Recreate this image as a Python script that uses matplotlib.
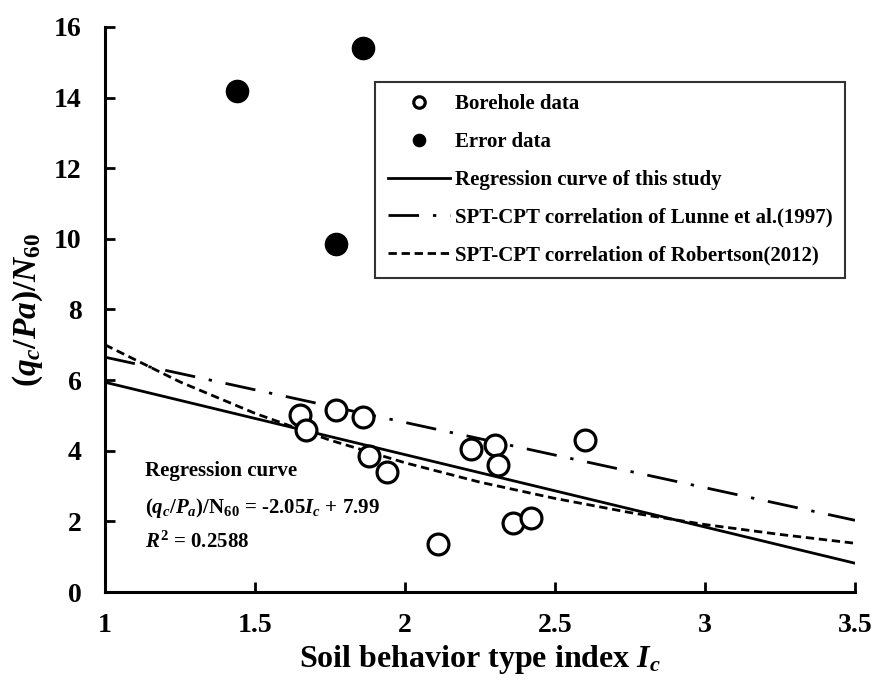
import matplotlib
matplotlib.use("Agg")
import matplotlib.pyplot as plt

# Data
bore_ic = [1.65, 1.67, 1.77, 1.86, 1.88, 1.94, 2.11, 2.22, 2.30, 2.31, 2.36, 2.42, 2.60]
bore_q = [5.00, 4.60, 5.15, 4.95, 3.85, 3.40, 1.35, 4.05, 4.15, 3.60, 1.95, 2.10, 4.30]
err_ic = [1.44, 1.77, 1.86]
err_q = [14.2, 9.85, 15.4]
reg_ic = [1.0, 3.5]
reg_q = [5.94, 0.815]
lunne_ic = [1.0, 3.5]
lunne_q = [6.65, 2.03]
rob_ic = [1.0, 1.25, 1.5, 1.75, 2.0, 2.25, 2.5, 2.75, 3.0, 3.25, 3.5]
rob_q = [7.00, 5.95, 5.06, 4.30, 3.66, 3.11, 2.65, 2.25, 1.91, 1.63, 1.38]
xticks = [1, 1.5, 2, 2.5, 3, 3.5]
xtick_labels = ["1", "1.5", "2", "2.5", "3", "3.5"]
yticks = [0, 2, 4, 6, 8, 10, 12, 14, 16]

plt.rcParams['font.family'] = ['Liberation Serif', 'DejaVu Serif']
plt.rcParams['font.weight'] = 'bold'
plt.rcParams['mathtext.fontset'] = 'custom'
plt.rcParams['mathtext.rm'] = 'Liberation Serif:bold'
plt.rcParams['mathtext.it'] = 'Liberation Serif:bold:italic'
plt.rcParams['mathtext.bf'] = 'Liberation Serif:bold'

W, H = 882, 684
fig = plt.figure(figsize=(W / 100, H / 100), dpi=100)
left, right, top, bottom = 105, 855, 27, 592
ax = fig.add_axes([left / W, 1 - bottom / H, (right - left) / W, (bottom - top) / H])

ax.plot(bore_ic, bore_q, 'o', ms=15, mfc='white', mec='black', mew=2.3, ls='none',
        label='Borehole data', zorder=5)
ax.plot(err_ic, err_q, 'o', ms=16, mfc='black', mec='black', ls='none',
        label='Error data', zorder=5)
ax.plot(reg_ic, reg_q, '-', color='black', lw=2, label='Regression curve of this study')
ax.plot(lunne_ic, lunne_q, color='black', lw=2, dashes=(11, 5, 1.2, 5),
        label='SPT-CPT correlation of Lunne et al.(1997)')
ax.plot(rob_ic, rob_q, color='black', lw=2, dashes=(3, 1.7),
        label='SPT-CPT correlation of Robertson(2012)')

ax.set_xlim(1, 3.5)
ax.set_ylim(0, 16)
ax.set_xticks(xticks)
ax.set_xticklabels(xtick_labels)
ax.set_yticks(yticks)
ax.tick_params(direction='in', length=7, width=2, labelsize=20)
ax.tick_params(axis='x', pad=15)
ax.tick_params(axis='y', pad=17)
for lab in ax.get_xticklabels() + ax.get_yticklabels():
    lab.set_fontweight('bold')
for s in ['top', 'right']:
    ax.spines[s].set_visible(False)
for s in ['left', 'bottom']:
    ax.spines[s].set_linewidth(2.2)

ax.set_xlabel(r'Soil behavior type index $I_c$', fontsize=23, fontweight='bold', labelpad=4)
ax.set_ylabel(r'$(q_c/Pa)/N_{60}$', fontsize=24, labelpad=6)

leg = ax.legend(loc='upper left', bbox_to_anchor=(0.36, 0.9027), frameon=True, fancybox=False,
                edgecolor='black', fontsize=15, handlelength=3.0, labelspacing=0.85,
                borderpad=0.6, handletextpad=0.25, markerscale=0.55, borderaxespad=0)
leg.get_frame().set_linewidth(1.5)
for t in leg.get_texts():
    t.set_fontweight('bold')

ax.text(1.133, 3.43, 'Regression curve', fontsize=15, fontweight='bold', va='center')
ax.text(1.133, 2.39, r'$(q_c/P_a)$/N$_{60}$ = -2.05$I_c$ + 7.99', fontsize=15, va='center')
ax.text(1.133, 1.40, r'$R^2$ = 0.2588', fontsize=15, va='center')

fig.savefig('out.png', dpi=100)
